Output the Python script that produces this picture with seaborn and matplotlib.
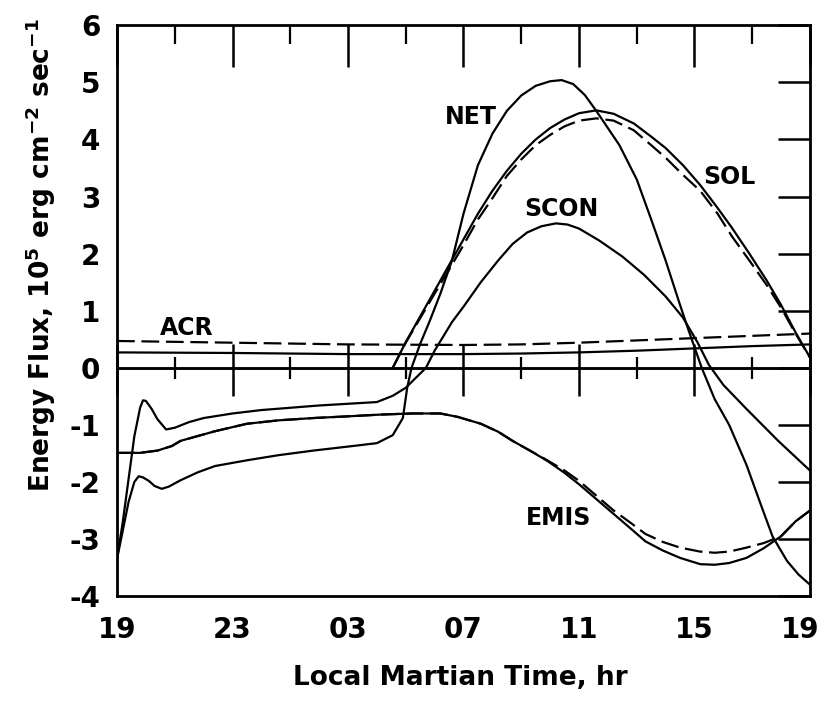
import matplotlib
matplotlib.use("Agg")
import matplotlib.pyplot as plt
from matplotlib.ticker import MultipleLocator
from matplotlib.transforms import ScaledTranslation
import seaborn as sns

# x = hours after 19:00 local martian time, y = energy flux (1e5 erg cm^-2 s^-1)
net_h = [0, 0.2, 0.4, 0.6, 0.75, 0.9, 1.1, 1.3, 1.55, 1.8, 2.2, 2.8, 3.4, 4.5, 5.6, 6.8, 8.0,
         9.0, 9.55, 9.9, 10.05, 10.2, 10.5, 10.83, 11.2, 11.6, 12.0, 12.5, 13.0, 13.5, 14.0,
         14.5, 15.0, 15.4, 15.8, 16.2, 16.6, 17.0, 17.4, 18.0, 18.5, 19.0, 19.5, 19.8, 20.25,
         20.7, 21.2, 21.8, 22.3, 22.7, 23.2, 23.6, 24.0]
net_v = [-3.35, -2.85, -2.35, -2.0, -1.9, -1.92, -1.98, -2.07, -2.12, -2.08, -1.97, -1.83,
         -1.72, -1.62, -1.53, -1.45, -1.38, -1.32, -1.18, -0.88, -0.35, 0.0, 0.42, 0.82, 1.3,
         1.88, 2.7, 3.55, 4.1, 4.5, 4.77, 4.94, 5.02, 5.04, 4.97, 4.78, 4.5, 4.2, 3.9, 3.3,
         2.6, 1.88, 1.1, 0.65, 0.0, -0.55, -1.0, -1.7, -2.4, -2.95, -3.38, -3.62, -3.8]

scon_h = [0, 0.2, 0.4, 0.6, 0.8, 0.9, 1.0, 1.2, 1.4, 1.7, 2.0, 2.5, 3.0, 4.0, 5.0, 6.0, 7.0,
          8.0, 9.0, 9.55, 10.0, 10.3, 10.7, 11.0, 11.6, 12.0, 12.6, 13.2, 13.7, 14.2, 14.7,
          15.2, 15.6, 16.0, 16.7, 17.5, 18.25, 19.0, 19.6, 20.1, 20.5, 21.0, 21.8, 22.9, 24.0]
scon_v = [-3.35, -2.7, -1.95, -1.2, -0.7, -0.57, -0.58, -0.72, -0.9, -1.08, -1.05, -0.95,
          -0.88, -0.8, -0.74, -0.7, -0.66, -0.63, -0.6, -0.49, -0.35, -0.2, 0.0, 0.3, 0.8,
          1.07, 1.5, 1.88, 2.17, 2.37, 2.48, 2.53, 2.51, 2.44, 2.23, 1.95, 1.63, 1.25, 0.88,
          0.45, 0.05, -0.3, -0.72, -1.28, -1.8]

sol_h = [9.55, 10.0, 10.5, 11.0, 11.5, 12.0, 12.5, 13.0, 13.5, 14.0, 14.5, 15.0, 15.5, 16.0,
         16.6, 17.2, 17.9, 18.5, 19.0, 19.6, 20.2, 20.8, 21.3, 21.9, 22.5, 23.0, 23.5, 24.0]
sol_v = [0.0, 0.45, 0.9, 1.35, 1.8, 2.25, 2.7, 3.1, 3.45, 3.75, 4.0, 4.2, 4.35, 4.46,
         4.51, 4.45, 4.28, 4.05, 3.85, 3.55, 3.2, 2.8, 2.45, 2.0, 1.53, 1.1, 0.62, 0.18]
sol2_v = [0.0, 0.44, 0.87, 1.3, 1.72, 2.15, 2.6, 2.97, 3.36, 3.65, 3.9, 4.08, 4.23, 4.33,
          4.37, 4.33, 4.16, 3.9, 3.68, 3.38, 3.1, 2.7, 2.3, 1.88, 1.45, 1.05, 0.6, 0.18]

emis_h = [0, 0.8, 1.4, 1.9, 2.2, 3.4, 4.5, 5.6, 6.8, 8.0, 9.1, 10.2, 11.2, 11.8, 12.6, 13.2,
          13.7, 14.3, 14.9, 15.5, 16.0, 16.6, 17.2, 17.8, 18.3, 18.9, 19.5, 20.2, 20.7, 21.2,
          21.8, 22.4, 23.0, 23.5, 24.0]
emis_v = [-1.49, -1.49, -1.45, -1.37, -1.28, -1.11, -0.98, -0.92, -0.88, -0.85, -0.82, -0.8,
          -0.8, -0.86, -0.98, -1.12, -1.28, -1.45, -1.63, -1.84, -2.04, -2.3, -2.56, -2.82,
          -3.04, -3.2, -3.33, -3.44, -3.45, -3.42, -3.33, -3.16, -2.95, -2.69, -2.5]
emis2_v = [-1.49, -1.49, -1.45, -1.37, -1.28, -1.11, -0.98, -0.92, -0.88, -0.85, -0.82, -0.8,
           -0.8, -0.86, -0.98, -1.12, -1.28, -1.45, -1.62, -1.8, -1.98, -2.24, -2.5, -2.72,
           -2.91, -3.05, -3.15, -3.22, -3.24, -3.22, -3.15, -3.07, -2.95, -2.69, -2.5]

acr_h = [0, 4, 8, 12, 14, 16, 18, 20, 22, 24]
acr_v = [0.27, 0.26, 0.24, 0.24, 0.25, 0.27, 0.3, 0.34, 0.38, 0.41]
acr2_v = [0.47, 0.44, 0.41, 0.4, 0.41, 0.44, 0.48, 0.52, 0.56, 0.6]

hour_ticks = [19, 23, 3, 7, 11, 15, 19]

sns.set_theme(style="white")
plt.rcParams['font.family'] = ['DejaVu Sans']
plt.rcParams['font.weight'] = 'bold'
plt.rcParams['mathtext.default'] = 'bf'
plt.rcParams['axes.unicode_minus'] = False
plt.rcParams['text.color'] = 'black'
plt.rcParams['axes.labelcolor'] = 'black'

fig = plt.figure(figsize=(8.24, 7.03), dpi=100)
box = [0.142, 0.152, 0.841, 0.812]
ax = fig.add_axes(box)

lw = 1.6
dash = (0, (8, 3))
sns.lineplot(x=net_h, y=net_v, ax=ax, color='black', lw=lw, estimator=None)
sns.lineplot(x=scon_h, y=scon_v, ax=ax, color='black', lw=lw, estimator=None)
sns.lineplot(x=sol_h, y=sol_v, ax=ax, color='black', lw=lw, estimator=None)
sns.lineplot(x=sol_h, y=sol2_v, ax=ax, color='black', lw=lw, linestyle=dash, estimator=None)
sns.lineplot(x=emis_h, y=emis_v, ax=ax, color='black', lw=lw, estimator=None)
sns.lineplot(x=emis_h, y=emis2_v, ax=ax, color='black', lw=lw, linestyle=dash, estimator=None)
sns.lineplot(x=acr_h, y=acr_v, ax=ax, color='black', lw=lw, estimator=None)
sns.lineplot(x=acr_h, y=acr2_v, ax=ax, color='black', lw=lw, linestyle=dash, estimator=None)

# curve names
lab = dict(fontsize=17, fontweight='bold', ha='center', va='center', color='black')
ax.text(12.25, 4.40, 'NET', **lab)
ax.text(15.4, 2.79, 'SCON', **lab)
ax.text(21.2, 3.35, 'SOL', **lab)
ax.text(2.4, 0.70, 'ACR', **lab)
ax.text(15.3, -2.63, 'EMIS', **lab)

ax.set_xlim(0, 24)
ax.set_ylim(-4, 6)
ax.set_xticks(range(0, 25, 4), [f"{h:02d}" for h in hour_ticks])
ax.xaxis.set_minor_locator(MultipleLocator(2))
ax.yaxis.set_major_locator(MultipleLocator(1))

ax.tick_params(axis='both', which='both', direction='in', top=True, right=True,
               color='black', labelsize=20, labelcolor='black')
ax.tick_params(axis='x', which='major', length=30, width=1.8, pad=14)
ax.tick_params(axis='x', which='minor', length=14, width=1.6)
ax.tick_params(axis='y', which='major', length=23, width=1.8, pad=12)
for s in ax.spines.values():
    s.set_linewidth(2.0)
    s.set_color('black')

# zero line (40% of the height): two transparent strips meeting at y=0,
# one carrying the upward ticks, the other the downward ones
zero_y = box[1] + box[3] * 0.4
for bounds, side, major_len in [([box[0], zero_y, box[2], 0.05], 'bottom', 17),
                                ([box[0], zero_y - 0.05, box[2], 0.05], 'top', 20)]:
    zax = fig.add_axes(bounds, facecolor='none')
    zax.set_xlim(0, 24)
    zax.xaxis.set_major_locator(MultipleLocator(4))
    zax.xaxis.set_minor_locator(MultipleLocator(2))
    zax.set_yticks([])
    zax.tick_params(axis='x', which='both', direction='in', color='black',
                    bottom=(side == 'bottom'), top=(side == 'top'),
                    labelbottom=False, labeltop=False)
    zax.tick_params(axis='x', which='major', length=major_len, width=1.8)
    zax.tick_params(axis='x', which='minor', length=8, width=1.6)
    for name, s in zax.spines.items():
        s.set_visible(name == side)
        s.set_linewidth(1.8)
        s.set_color('black')

ax.set_xlabel('Local Martian Time, hr', fontsize=19, fontweight='bold')
ax.xaxis.set_label_coords(0.496, -0.121)
ax.set_ylabel(r'Energy Flux, $10^5$ erg cm$^{-2}$ sec$^{-1}$', fontsize=19, fontweight='bold')
ax.yaxis.set_label_coords(-0.085, 0.597)

# keep the last hour label inside the figure
last = ax.get_xticklabels()[-1]
last.set_transform(last.get_transform() + ScaledTranslation(-7 / 72, 0, fig.dpi_scale_trans))

fig.savefig('out.png', dpi=100)
